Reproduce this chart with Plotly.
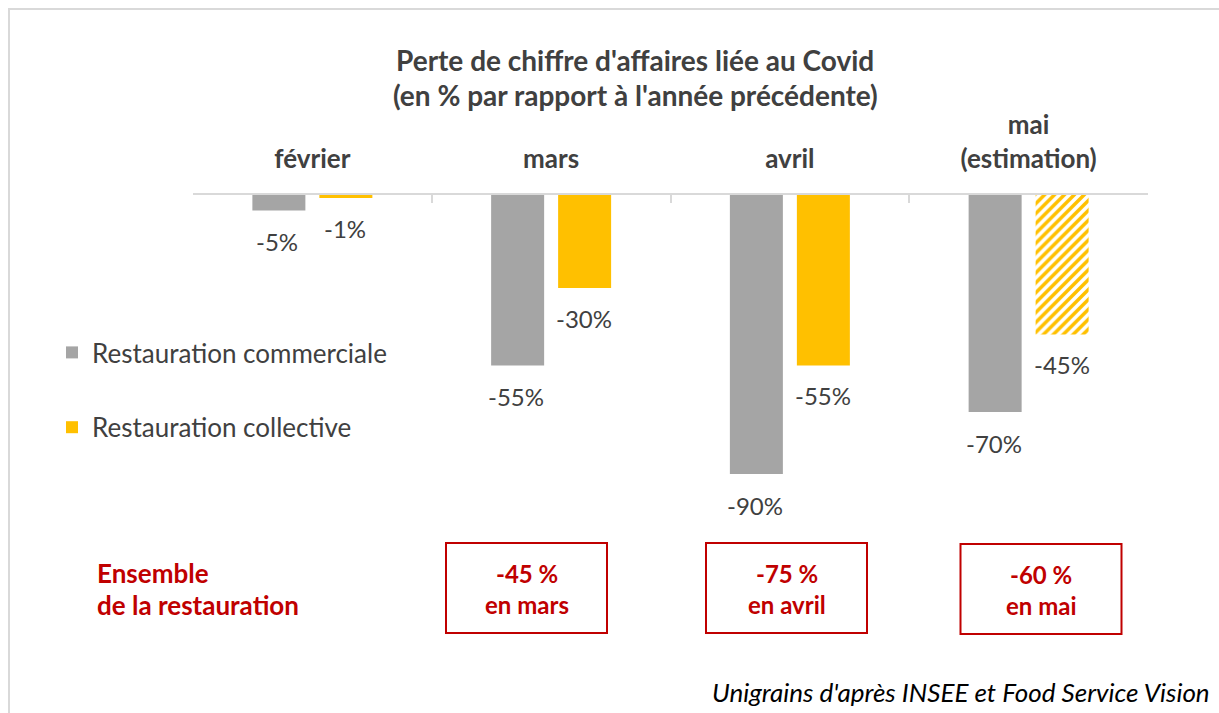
import plotly.graph_objects as go

W, H = 1219, 713

categories = ["février", "mars", "avril", "mai<br>(estimation)"]
commerciale = [-5, -55, -90, -70]
collective = [-1, -30, -55, -45]
labels_commerciale = ["-5%", "-55%", "-90%", "-70%"]
labels_collective = ["-1%", "-30%", "-55%", "-45%"]
collective_patterns = ["", "", "", "/"]
ensemble_cats = ["mars", "avril", "mai"]
ensemble_values = ["-45 %", "-75 %", "-60 %"]
ensemble_months = ["en mars", "en avril", "en mai"]

GRAY = "#a5a5a5"
YELLOW = "#ffc000"
RED = "#c00000"
TXT = "#404040"
FONT = "Lato"

def px(x):
    return x / W

def py(y):
    return 1 - y / H

bar_w = 0.222
off = 0.1403

fig = go.Figure()
fig.add_trace(go.Bar(
    x=categories, y=commerciale, name="Restauration commerciale",
    marker=dict(color=GRAY, line=dict(width=0)),
    width=bar_w, offset=-off - bar_w / 2, legendgroup="a",
    hoverinfo="skip",
))
fig.add_trace(go.Bar(
    x=categories, y=collective, name="Restauration collective",
    marker=dict(color=YELLOW, line=dict(width=0),
                pattern=dict(shape=collective_patterns, size=7, solidity=0.5,
                             fillmode="replace")),
    width=bar_w, offset=off - bar_w / 2, legendgroup="b",
    hoverinfo="skip",
))

annotations = []
# data labels
for cat, v, t in zip(categories, commerciale, labels_commerciale):
    annotations.append(dict(x=cat, y=v, xref="x", yref="y", text=t, showarrow=False,
                            xshift=-35, yshift=-31, yanchor="middle",
                            font=dict(family=FONT, size=24, color=TXT)))
for cat, v, t in zip(categories, collective, labels_collective):
    annotations.append(dict(x=cat, y=v, xref="x", yref="y", text=t, showarrow=False,
                            xshift=33, yshift=-30, yanchor="middle",
                            font=dict(family=FONT, size=24, color=TXT)))

# title
annotations.append(dict(x=px(635), y=py(60), xref="paper", yref="paper",
                        text="<b>Perte de chiffre d'affaires liée au Covid</b>",
                        showarrow=False, xanchor="center", yanchor="middle",
                        font=dict(family=FONT, size=28, color=TXT)))
annotations.append(dict(x=px(635), y=py(95), xref="paper", yref="paper",
                        text="<b>(en % par rapport à l'année précédente)</b>",
                        showarrow=False, xanchor="center", yanchor="middle",
                        font=dict(family=FONT, size=28, color=TXT)))

# Ensemble label
annotations.append(dict(x=px(95), y=py(573), xref="paper", yref="paper",
                        text="<b>Ensemble</b>", showarrow=False, xanchor="left",
                        yanchor="middle", font=dict(family=FONT, size=26, color=RED)))
annotations.append(dict(x=px(95), y=py(605), xref="paper", yref="paper",
                        text="<b>de la restauration</b>", showarrow=False, xanchor="left",
                        yanchor="middle", font=dict(family=FONT, size=26, color=RED)))

shapes = [dict(type="rect", xref="paper", yref="paper",
               x0=px(9), x1=1.05, y0=-0.05, y1=py(9),
               line=dict(color="#d9d9d9", width=2), fillcolor="rgba(0,0,0,0)",
               layer="below")]

# red boxes
box_centers = {"mars": 526.5, "avril": 786.5, "mai": 1041}
box_tops = {"mars": 543, "avril": 543, "mai": 544}
for cat, v, m in zip(ensemble_cats, ensemble_values, ensemble_months):
    cx = box_centers[cat]
    top = box_tops[cat]
    shapes.append(dict(type="rect", xref="paper", yref="paper",
                       x0=px(cx - 80.5), x1=px(cx + 80.5), y0=py(top + 90), y1=py(top),
                       line=dict(color=RED, width=2), fillcolor="rgba(0,0,0,0)"))
    annotations.append(dict(x=px(cx), y=py(top + 30), xref="paper", yref="paper",
                            text="<b>" + v + "</b>", showarrow=False,
                            xanchor="center", yanchor="middle",
                            font=dict(family=FONT, size=24, color=RED)))
    annotations.append(dict(x=px(cx), y=py(top + 61), xref="paper", yref="paper",
                            text="<b>" + m + "</b>", showarrow=False,
                            xanchor="center", yanchor="middle",
                            font=dict(family=FONT, size=24, color=RED)))

# source
annotations.append(dict(x=px(1212), y=py(692), xref="paper", yref="paper",
                        text="<i>Unigrains d'après INSEE et Food Service Vision</i>",
                        showarrow=False, xanchor="right", yanchor="middle",
                        font=dict(family=FONT, size=26, color="#000000")))

fig.update_layout(
    width=W, height=H,
    margin=dict(l=0, r=0, t=0, b=0),
    paper_bgcolor="white", plot_bgcolor="white",
    barmode="overlay",
    showlegend=True,
    legend=dict(x=px(52), y=py(329), xanchor="left", yanchor="top",
                font=dict(family=FONT, size=26, color=TXT),
                tracegroupgap=38, bgcolor="rgba(0,0,0,0)", traceorder="grouped"),
    xaxis=dict(domain=[px(193), px(1148)], side="top", type="category",
               showline=True, linecolor="#d9d9d9", linewidth=2,
               ticks="inside", tickson="boundaries", ticklen=8, tickcolor="#d9d9d9",
               tickwidth=2, showgrid=False, zeroline=False,
               tickfont=dict(family=FONT, size=26, color=TXT),
               ticklabelstandoff=15),
    yaxis=dict(domain=[py(505), py(195)], range=[-100, 0], visible=False,
               showgrid=False, zeroline=False),
    annotations=annotations,
    shapes=shapes,
    font=dict(family=FONT),
)
fig.update_xaxes(tickprefix="<b>", ticksuffix="</b>")

fig.write_html("out.html")
